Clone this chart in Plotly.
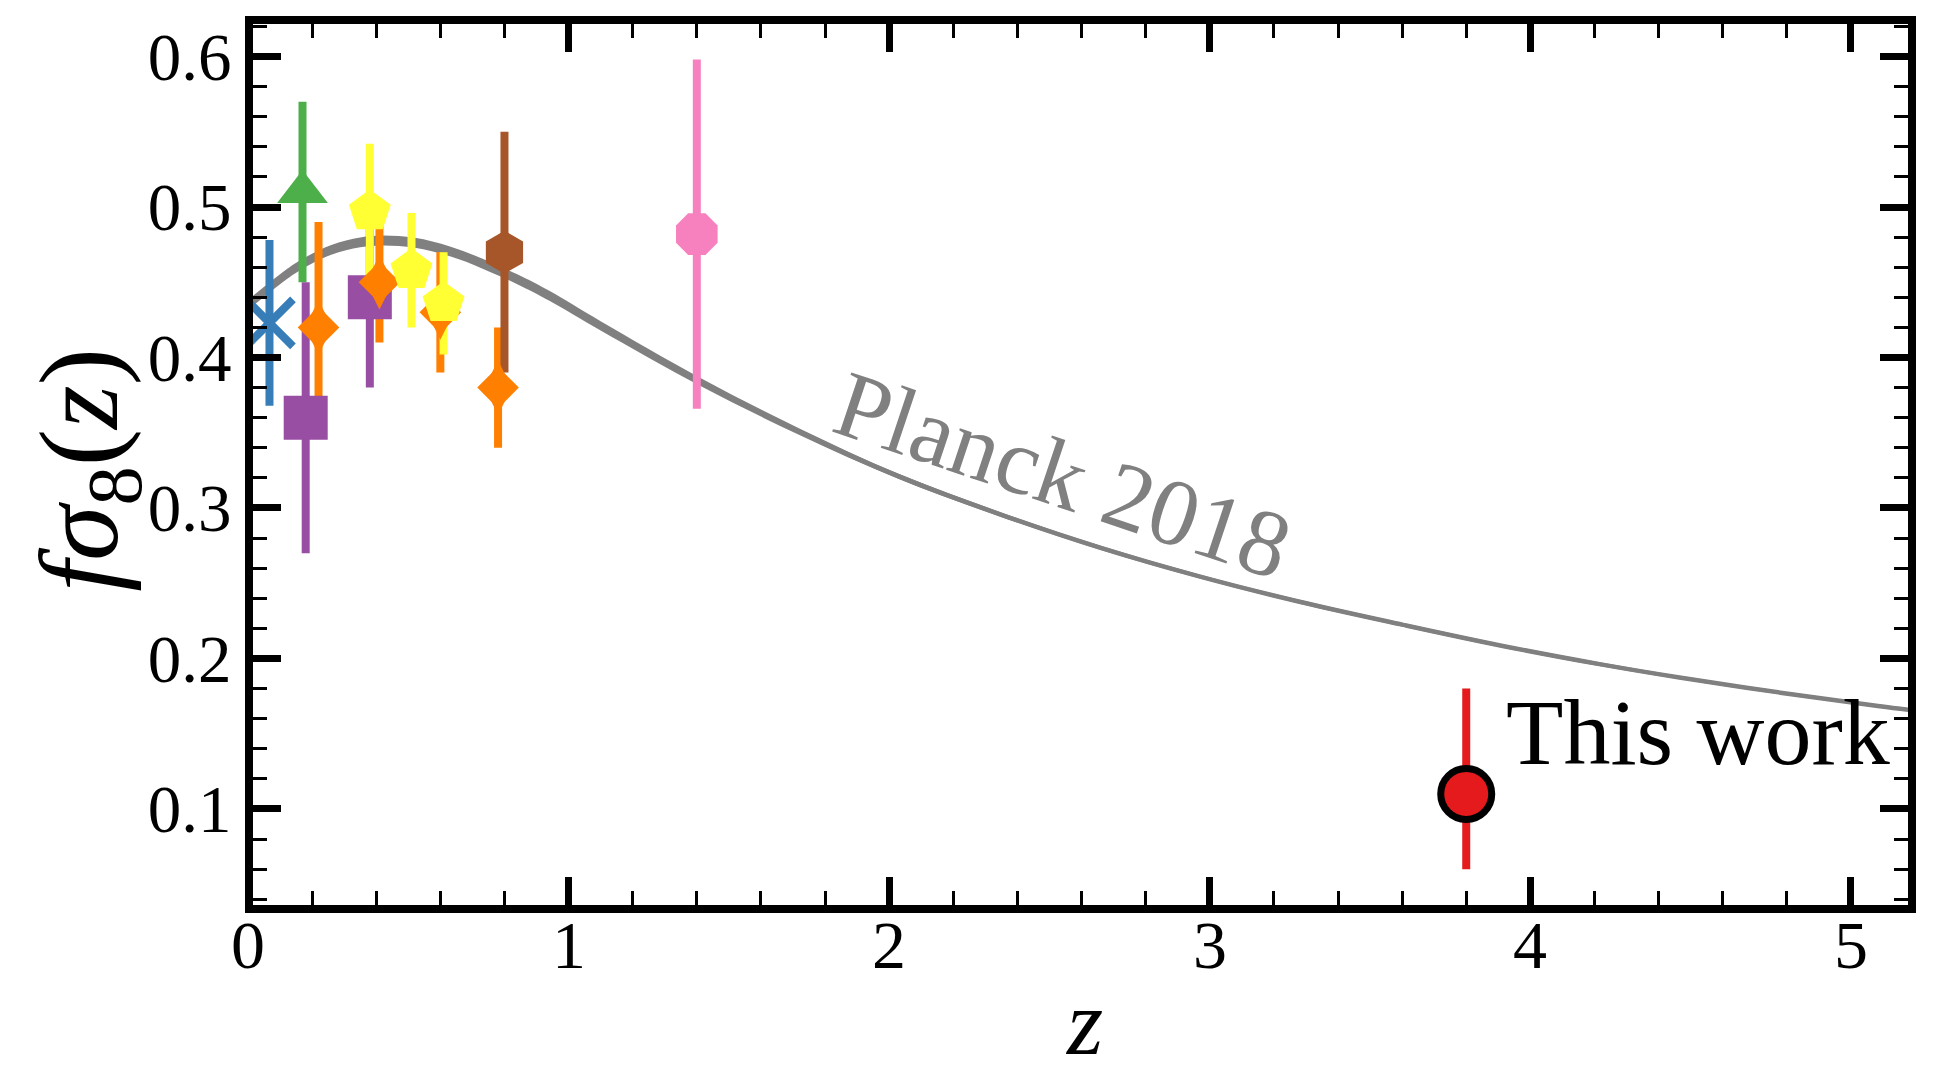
import plotly.graph_objects as go

# Planck 2018 LCDM prediction for f*sigma8(z), with its 1-sigma half-width
planck_z = [0.0, 0.10, 0.16, 0.26, 0.35, 0.42, 0.52, 0.63, 0.73, 0.84, 0.94, 1.10,
            1.41, 1.72, 2.03, 2.35, 2.66, 2.97, 3.28, 3.60, 3.91, 4.22, 4.47, 4.78,
            5.09, 5.20]
planck_fs8 = [0.435, 0.452, 0.461, 0.4715, 0.4765, 0.4778, 0.4762, 0.4705, 0.4625,
              0.4520, 0.4410, 0.4210, 0.3839, 0.3507, 0.3210, 0.2955, 0.2735, 0.2544,
              0.2377, 0.2225, 0.2085, 0.1961, 0.1872, 0.1773, 0.1683, 0.1654]
planck_sig = [0.0033, 0.0033, 0.0033, 0.0033, 0.0033, 0.0033, 0.0033, 0.0033, 0.0033,
              0.0033, 0.0033, 0.0031, 0.0027, 0.0022, 0.0017, 0.0015, 0.0014, 0.0013,
              0.0013, 0.0012, 0.0012, 0.0012, 0.0011, 0.0011, 0.0011, 0.0011]

# Growth-rate measurements: (z, f*sigma8, error)
sixdf_z, sixdf_fs8, sixdf_err = [0.067], [0.423], [0.055]
twodf_z, twodf_fs8, twodf_err = [0.17], [0.51], [0.06]
gama_z, gama_fs8, gama_err = [0.18, 0.38], [0.36, 0.44], [0.09, 0.06]
wigglez_z = [0.22, 0.41, 0.60, 0.78]
wigglez_fs8 = [0.42, 0.45, 0.43, 0.38]
wigglez_err = [0.07, 0.04, 0.04, 0.04]
boss_z = [0.38, 0.51, 0.61]
boss_fs8 = [0.497, 0.458, 0.436]
boss_err = [0.045, 0.038, 0.034]
vipers_z, vipers_fs8, vipers_err = [0.80], [0.47], [0.08]
fastsound_z, fastsound_fs8, fastsound_err = [1.40], [0.482], [0.116]
this_z, this_fs8, this_err_up, this_err_dn = [3.80], [0.11], [0.07], [0.05]

# axis ticks
x_ticks = [0, 1, 2, 3, 4, 5]
x_tick_text = ["0", "1", "2", "3", "4", "5"]
X_RANGE = [0.0156, 5.178]
Y_RANGE = [0.0362, 0.6216]

GRAY = "#808080"
FONT = "Liberation Serif"

# each entry: data, colour, and one or more marker layers (symbol, size)
surveys = [
    dict(z=sixdf_z, v=sixdf_fs8, e=sixdf_err, color="#377eb8", layers=[("x-thin", 47)]),
    dict(z=twodf_z, v=twodf_fs8, e=twodf_err, color="#4daf4a", layers=[("triangle-up", 44)]),
    dict(z=gama_z, v=gama_fs8, e=gama_err, color="#984ea3", layers=[("square", 44)]),
    # thin diamond: a tall diamond merged with a regular one
    dict(z=wigglez_z, v=wigglez_fs8, e=wigglez_err, color="#ff7f00",
         layers=[("diamond-tall", 39), ("diamond", 32)]),
    dict(z=boss_z, v=boss_fs8, e=boss_err, color="#ffff33", layers=[("pentagon", 44)]),
    dict(z=vipers_z, v=vipers_fs8, e=vipers_err, color="#a65628", layers=[("hexagon", 43)]),
    dict(z=fastsound_z, v=fastsound_fs8, e=fastsound_err, color="#f781bf", layers=[("octagon", 45)]),
]

fig = go.Figure()

# Planck band and central line
upper = [v + s for v, s in zip(planck_fs8, planck_sig)]
lower = [v - s for v, s in zip(planck_fs8, planck_sig)]
fig.add_trace(go.Scatter(x=planck_z, y=upper, mode="lines", line=dict(width=0, shape="spline"),
                         hoverinfo="skip", showlegend=False))
fig.add_trace(go.Scatter(x=planck_z, y=lower, mode="lines", line=dict(width=0, shape="spline"),
                         fill="tonexty", fillcolor=GRAY, hoverinfo="skip", showlegend=False))
fig.add_trace(go.Scatter(x=planck_z, y=planck_fs8, mode="lines",
                         line=dict(color=GRAY, width=4.5, shape="spline"), showlegend=False))

# error bars first, so every marker sits above every bar
for s in surveys:
    fig.add_trace(go.Scatter(
        x=s["z"], y=s["v"], mode="markers",
        marker=dict(size=1, color="rgba(0,0,0,0)"),
        error_y=dict(type="data", array=s["e"], color=s["color"], thickness=8, width=0),
        showlegend=False, hoverinfo="skip"))
fig.add_trace(go.Scatter(
    x=this_z, y=this_fs8, mode="markers",
    marker=dict(size=1, color="rgba(0,0,0,0)"),
    error_y=dict(type="data", symmetric=False, array=this_err_up, arrayminus=this_err_dn,
                 color="#e41a1c", thickness=8, width=0),
    showlegend=False, hoverinfo="skip"))

for s in surveys:
    for symbol, size in s["layers"]:
        if symbol == "x-thin":
            marker = dict(symbol=symbol, size=size, color=s["color"],
                          line=dict(color=s["color"], width=8))
        else:
            marker = dict(symbol=symbol, size=size, color=s["color"], line=dict(width=0))
        fig.add_trace(go.Scatter(x=s["z"], y=s["v"], mode="markers", marker=marker,
                                 showlegend=False))

fig.add_trace(go.Scatter(
    x=this_z, y=this_fs8, mode="markers",
    marker=dict(symbol="circle", size=51, color="#e41a1c", line=dict(color="black", width=7)),
    showlegend=False))

fig.add_annotation(x=2.542, y=0.322, xref="x", yref="y", text="Planck 2018",
                   textangle=18.5, showarrow=False,
                   font=dict(family=FONT, size=95, color=GRAY))
fig.add_annotation(x=3.918, y=0.1512, xref="x", yref="y", text="This work",
                   xanchor="left", yanchor="middle", showarrow=False,
                   font=dict(family=FONT, size=94, color="black"))

# x tick labels, placed in paper units so the one at z=0 (under the frame) shows
for val, txt in zip(x_ticks, x_tick_text):
    fig.add_annotation(x=(val - X_RANGE[0]) / (X_RANGE[1] - X_RANGE[0]), y=-0.0454,
                       xref="paper", yref="paper", text=txt, showarrow=False,
                       xanchor="center", yanchor="middle",
                       font=dict(family=FONT, size=68, color="black"))

# axis titles
fig.add_annotation(x=0.502, y=-0.1335, xref="paper", yref="paper", text="<i>z</i>",
                   showarrow=False, xanchor="center", yanchor="middle",
                   font=dict(family=FONT, size=93, color="black"))
fig.add_annotation(x=-0.0997, y=0.494, xref="paper", yref="paper",
                   text="<i>fσ</i><sub>8</sub>(<i>z</i>)", textangle=-90,
                   showarrow=False, xanchor="center", yanchor="middle",
                   font=dict(family=FONT, size=112, color="black"))

axis_common = dict(
    showline=True, linewidth=8, linecolor="black", mirror="ticks",
    ticks="inside", tickwidth=6.5, tickcolor="black", ticklen=28,
    showgrid=False, zeroline=False, automargin=False,
    tickfont=dict(family=FONT, size=67, color="black"),
)

fig.update_xaxes(
    range=X_RANGE, tick0=0, dtick=1, showticklabels=False,
    minor=dict(ticks="inside", ticklen=14, tickwidth=3, tickcolor="black", dtick=0.2, tick0=0,
               showgrid=False),
    **axis_common)
fig.update_yaxes(
    range=Y_RANGE, tick0=0, dtick=0.1, tickformat=".1f",
    minor=dict(ticks="inside", ticklen=14, tickwidth=3, tickcolor="black", dtick=0.02, tick0=0,
               showgrid=False),
    **axis_common)

fig.update_layout(
    width=1947, height=1066,
    margin=dict(l=253, r=39, t=24, b=161),
    plot_bgcolor="white", paper_bgcolor="white",
    showlegend=False,
)

fig.write_html("out.html")
